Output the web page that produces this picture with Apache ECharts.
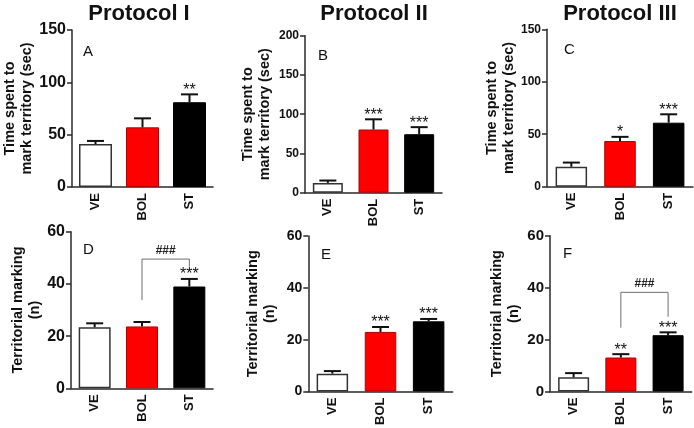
<!DOCTYPE html>
<html>
<head>
<meta charset="utf-8">
<script src="https://cdn.jsdelivr.net/npm/echarts@6/dist/echarts.min.js"></script>
<style>
html,body{margin:0;padding:0;background:#fff;}
#chart{width:694px;height:428px;}
</style>
</head>
<body>
<div id="chart"></div>
<script>
// ---- data ----
var categories = ['VE', 'BOL', 'ST'];
var protocolTitles = ['Protocol I', 'Protocol II', 'Protocol III'];
var panelLetters = ['A', 'B', 'C', 'D', 'E', 'F'];
var timeLabel = 'Time spent to\nmark territory (sec)';
var markLabel = 'Territorial marking\n(n)';

var meanA = [41, 57, 81];     var semA = [3, 8.6, 7.5];   var sigA = ['', '', '**'];
var meanB = [12.5, 80.5, 74.5]; var semB = [3, 13, 9];    var sigB = ['', '***', '***'];
var meanC = [19, 43.5, 61];   var semC = [4, 4, 8];       var sigC = ['', '*', '***'];
var meanD = [23.4, 23.7, 39]; var semD = [1.5, 1.7, 2.9]; var sigD = ['', '', '***'];
var meanE = [6.9, 23, 27.1];  var semE = [1, 1.9, 0.9];   var sigE = ['', '***', '***'];
var meanF = [5.5, 13.1, 21.7]; var semF = [1.6, 1.3, 1.1]; var sigF = ['', '**', '***'];

var yMaxTop = [150, 200, 150];
var yMaxBottom = [60, 60, 60];
var yStepTop = [50, 50, 50];
var yStepBottom = [20, 20, 20];

// bracket: [fromCategory, toCategory, topValue, leftFootValue, rightFootValue]
var bracketD = [1, 2, 49.5, 33.8, 46.6];
var bracketF = [1, 2, 38.2, 24.6, 28.8];
var bracketText = '###';

// ---- layout / styles ----
var grids = [
  {left: 72, top: 30, width: 141, height: 157},
  {left: 305, top: 35.7, width: 137, height: 157},
  {left: 547, top: 29.3, width: 146, height: 157.4},
  {left: 71, top: 231.7, width: 142, height: 156.6},
  {left: 308.3, top: 236, width: 144.4, height: 157.3},
  {left: 550, top: 235.7, width: 141.7, height: 157}
];
var barWidths = [33, 30, 31.5, 32, 31.5, 31];
var tickFont = [16, 12, 12, 16, 14, 15];
var nameGaps = [31.5, 31.5, 27, 25, 30, 27.5];
var letterPos = [[78, 39], [313, 43.5], [559, 37], [78, 237], [316, 242], [558, 241]];
var titleCenters = [134, 369, 615];

var means = [meanA, meanB, meanC, meanD, meanE, meanF];
var sems = [semA, semB, semC, semD, semE, semF];
var sigs = [sigA, sigB, sigC, sigD, sigE, sigF];
var yMax = yMaxTop.concat(yMaxBottom);
var yStep = yStepTop.concat(yStepBottom);
var yNames = [timeLabel, timeLabel, timeLabel, markLabel, markLabel, markLabel];

var barStyles = [
  {color: '#ffffff', borderColor: '#333333', borderWidth: 1.5},
  {color: '#ff0000', borderColor: '#b00000', borderWidth: 1},
  {color: '#000000', borderColor: '#000000', borderWidth: 1}
];
var axisColor = '#2a2a2a';
var textColor = '#111111';

var option = {
  backgroundColor: '#ffffff',
  animation: false,
  title: [],
  grid: [],
  xAxis: [],
  yAxis: [],
  series: []
};

protocolTitles.forEach(function (t, i) {
  option.title.push({
    text: t, left: titleCenters[i], top: -2, textAlign: 'center',
    textStyle: {fontFamily: 'Liberation Sans', fontWeight: 'bold', fontSize: 22, color: textColor}
  });
});
panelLetters.forEach(function (t, i) {
  option.title.push({
    text: t, left: letterPos[i][0], top: letterPos[i][1],
    textStyle: {fontFamily: 'Liberation Sans', fontWeight: 'normal', fontSize: 15, color: textColor}
  });
});

for (var i = 0; i < 6; i++) {
  option.grid.push(Object.assign({containLabel: false}, grids[i]));
  option.xAxis.push({
    type: 'category', gridIndex: i, data: categories,
    axisLine: {show: true, lineStyle: {color: axisColor, width: 1.5}},
    axisTick: {show: false},
    axisLabel: {rotate: 90, margin: 6, fontFamily: 'Liberation Sans', fontWeight: 'bold', fontSize: 13, color: textColor}
  });
  option.yAxis.push({
    type: 'value', gridIndex: i, min: 0, max: yMax[i], interval: yStep[i],
    name: yNames[i], nameLocation: 'middle', nameGap: nameGaps[i], nameRotate: 90,
    nameTextStyle: {fontFamily: 'Liberation Sans', fontWeight: 'bold', fontSize: 14.5, lineHeight: 17, color: textColor},
    axisLine: {show: true, lineStyle: {color: axisColor, width: 1.5}},
    axisTick: {show: true, inside: false, length: 5, lineStyle: {color: axisColor, width: 1.5}},
    splitLine: {show: false},
    axisLabel: {margin: 6, fontFamily: 'Liberation Sans', fontWeight: 'bold', fontSize: tickFont[i], color: textColor}
  });
  option.series.push({
    type: 'bar', xAxisIndex: i, yAxisIndex: i, barWidth: barWidths[i],
    data: means[i].map(function (v, k) { return {value: v, itemStyle: barStyles[k]}; })
  });
  (function (idx) {
    option.series.push({
      type: 'custom', xAxisIndex: idx, yAxisIndex: idx, z: 5,
      data: means[idx].map(function (v, k) { return [k, v, sems[idx][k]]; }),
      renderItem: function (params, api) {
        var k = api.value(0), m = api.value(1), e = api.value(2);
        var p0 = api.coord([k, m]);
        var p1 = api.coord([k, m + e]);
        var hw = 8.5;
        var children = [
          {type: 'line', shape: {x1: p0[0], y1: p0[1], x2: p1[0], y2: p1[1]}, style: {stroke: '#111', lineWidth: 2}},
          {type: 'line', shape: {x1: p1[0] - hw, y1: p1[1], x2: p1[0] + hw, y2: p1[1]}, style: {stroke: '#111', lineWidth: 2}}
        ];
        var s = sigs[idx][params.dataIndex];
        if (s) {
          children.push({type: 'text', x: p1[0], y: p1[1] + 4,
            style: {text: s, textAlign: 'center', textVerticalAlign: 'bottom', fontFamily: 'Liberation Sans', fontSize: 16, fill: '#111'}});
        }
        return {type: 'group', children: children};
      }
    });
  })(i);
}

function addBracket(gi, b) {
  option.series.push({
    type: 'custom', xAxisIndex: gi, yAxisIndex: gi, z: 6,
    data: [b],
    renderItem: function (params, api) {
      var a = api.value(0), c = api.value(1), top = api.value(2), lf = api.value(3), rf = api.value(4);
      var pTL = api.coord([a, top]), pTR = api.coord([c, top]);
      var pL = api.coord([a, lf]), pR = api.coord([c, rf]);
      var st = {stroke: '#6e6e6e', lineWidth: 1};
      return {type: 'group', children: [
        {type: 'polyline', shape: {points: [pL, pTL, pTR, pR]}, style: Object.assign({fill: null}, st)},
        {type: 'text', x: (pTL[0] + pTR[0]) / 2, y: pTL[1] - 2.5,
          style: {text: bracketText, textAlign: 'center', textVerticalAlign: 'bottom', fontFamily: 'Liberation Sans', fontWeight: 'bold', fontSize: 12, fill: '#222'}}
      ]};
    }
  });
}
addBracket(3, bracketD);
addBracket(5, bracketF);

var chart = echarts.init(document.getElementById('chart'), null, {renderer: 'canvas'});
chart.setOption(option);
</script>
</body>
</html>
